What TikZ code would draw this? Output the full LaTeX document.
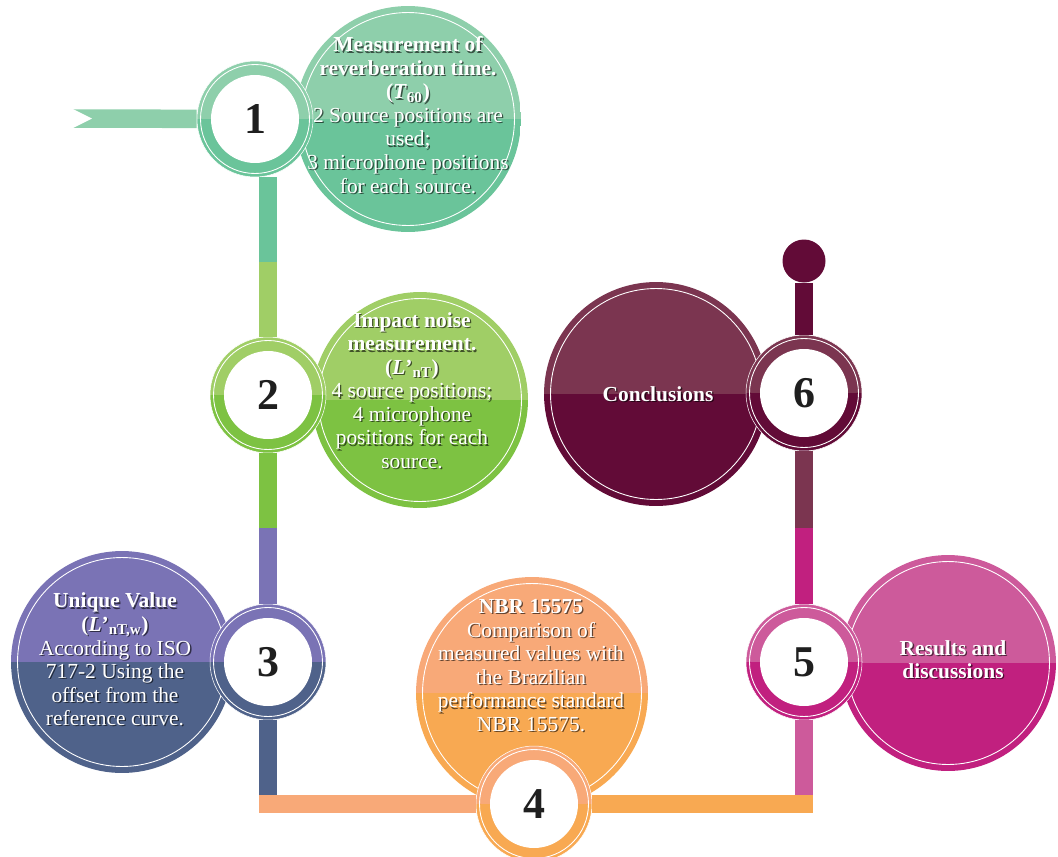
\documentclass[tikz,border=0pt]{standalone}
\usepackage{fontspec}
\setmainfont{Liberation Serif}
\definecolor{tealtop}{HTML}{8ECFAB}
\definecolor{tealbot}{HTML}{6AC49A}
\definecolor{greentop}{HTML}{A0CE66}
\definecolor{greenbot}{HTML}{7DC242}
\definecolor{purpletop}{HTML}{7A73B5}
\definecolor{purplebot}{HTML}{4F628A}
\definecolor{orangetop}{HTML}{F8A978}
\definecolor{orangebot}{HTML}{F8A952}
\definecolor{pinktop}{HTML}{CD5A9B}
\definecolor{pinkbot}{HTML}{C1207F}
\definecolor{winetop}{HTML}{7B3550}
\definecolor{winebot}{HTML}{620B37}
% white caption with a soft dark shadow under it
\newcommand\shadowed[3]{%
  \node[caption,text=black,opacity=.6] at ([shift={(1.3,1.3)}]#2) {#3};
  \node[caption] (#1) at (#2) {#3};}
\begin{document}
\begin{tikzpicture}[x=0.02cm,y=-0.02cm,
  seg/.style={draw=#1,line width=0.37cm},
  ring/.style 2 args={circle,minimum size=2.32cm,inner sep=0pt,
    font=\fontsize{25}{25}\selectfont\bfseries,text=black!88,
    path picture={
      \fill[#1] (path picture bounding box.north west) rectangle (path picture bounding box.east);
      \fill[#2] (path picture bounding box.west) rectangle (path picture bounding box.south east);
      \draw[white,line width=0.5pt] (path picture bounding box.center) circle (1.09cm);
      \fill[white] (path picture bounding box.center) circle (0.88cm);}},
  bubble/.style n args={3}{circle,minimum size={2*#3cm},inner sep=0pt,
    path picture={
      \fill[#1] (path picture bounding box.north west) rectangle (path picture bounding box.east);
      \fill[#2] (path picture bounding box.west) rectangle (path picture bounding box.south east);
      \draw[white,line width=0.5pt] (path picture bounding box.center) circle ({#3cm-0.13cm});}},
  caption/.style={align=center,font=\fontsize{12.2}{13.4}\selectfont,text=white}]
\useasboundingbox (0,0) rectangle (1058,856);

% big circles
\node[bubble={tealtop}{tealbot}{2.26}] (b1) at (408,119) {};
\node[bubble={greentop}{greenbot}{2.16}] (b2) at (420,400) {};
\node[bubble={purpletop}{purplebot}{2.22}] (b3) at (122,662) {};
\node[bubble={orangetop}{orangebot}{2.32}] (b4) at (532,693) {};
\node[bubble={pinktop}{pinkbot}{2.16}] (b5) at (948,663) {};
\node[bubble={winetop}{winebot}{2.24}] (b6) at (656,394) {};

% track corners and ends
\coordinate (tail) at (72,118.5);
\coordinate (k12) at (268,262);
\coordinate (k23) at (268,528);
\coordinate (k3b) at (268,795);
\coordinate (bl) at (259,804);
\coordinate (br) at (813,804);
\coordinate (k5b) at (804,795);
\coordinate (k56) at (804,528);
\node[circle,fill=winebot,minimum size=0.86cm,inner sep=0pt] (knob) at (804,261) {};

% numbered rings
\node[ring={tealtop}{tealbot}] (r1) at (255,119) {1};
\node[ring={greentop}{greenbot}] (r2) at (268,395) {2};
\node[ring={purpletop}{purplebot}] (r3) at (268,662) {3};
\node[ring={orangetop}{orangebot}] (r4) at (534,804) {4};
\node[ring={pinktop}{pinkbot}] (r5) at (804,662) {5};
\node[ring={winetop}{winebot}] (r6) at (804,393) {6};
\foreach \r in {r1,r2,r3,r4,r5,r6}
  \draw[white,line width=0.3pt] (\r) circle (1.16cm);

% track
\draw[seg=tealtop] (tail) -- (r1);
\fill[white] (71,108) -- (92,118.5) -- (71,129) -- cycle;
\draw[seg=tealbot] (r1.south -| k12) -- (k12);
\draw[seg=greentop] (k12) -- (r2.north);
\draw[seg=greenbot] (r2.south) -- (k23);
\draw[seg=purpletop] (k23) -- (r3.north);
\draw[seg=purplebot] (r3.south) -- (k3b);
\draw[seg=orangetop] (bl) -- (r4.west);
\draw[seg=orangebot] (r4.east) -- (br);
\draw[seg=pinktop] (r5.south) -- (k5b);
\draw[seg=pinkbot] (k56) -- (r5.north);
\draw[seg=winetop] (r6.south) -- (k56);
\draw[seg=winebot] (knob) -- (r6.north);

% captions
\shadowed{t1}{408,115}{\textbf{Measurement of}\\\textbf{reverberation time.}\\
  \textbf{(\textit{T}\textsubscript{60})}\\2 Source positions are\\used;\\
  3 microphone positions\\for each source.}
\shadowed{t2}{412,390.5}{\textbf{Impact noise}\\\textbf{measurement.}\\
  \textbf{(\textit{L}’\textsubscript{nT})}\\4 source positions;\\4 microphone\\
  positions for each\\source.}
\shadowed{t3}{115,659.5}{\textbf{Unique Value}\\\textbf{(\textit{L}’\textsubscript{nT,w})}\\
  According to ISO\\717-2 Using the\\offset from the\\reference curve.}
\shadowed{t4}{531,665.5}{\textbf{NBR 15575}\\Comparison of\\measured values with\\
  the Brazilian\\performance standard\\NBR 15575.}
\shadowed{t5}{953,659.5}{\textbf{Results and}\\\textbf{discussions}}
\shadowed{t6}{658,394}{\textbf{Conclusions}}
\end{tikzpicture}
\end{document}
